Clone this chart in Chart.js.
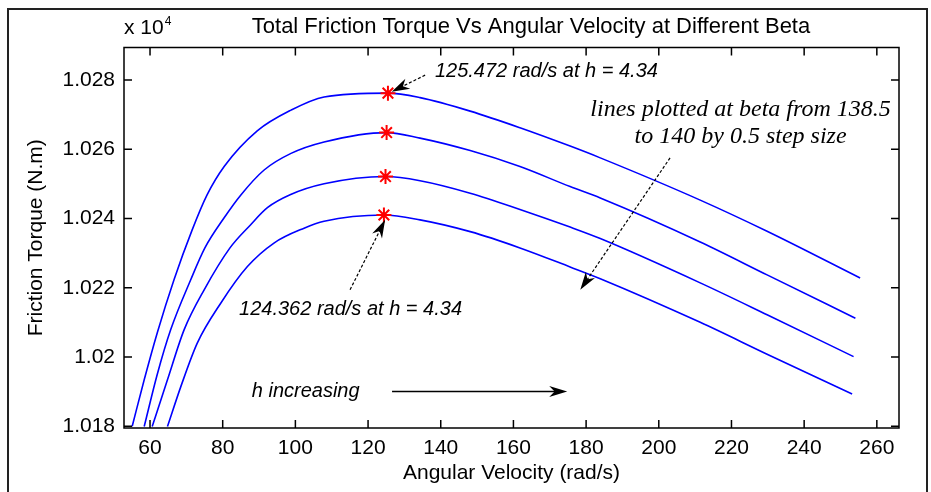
<!DOCTYPE html>
<html>
<head>
<meta charset="utf-8">
<script src="https://cdn.jsdelivr.net/npm/chart.js@4.4.1/dist/chart.umd.min.js"></script>
<style>
  html, body { margin: 0; padding: 0; background: #fff; }
  canvas { display: block; }
</style>
</head>
<body>
<canvas id="chart" width="931" height="492"></canvas>
<script>
const SANS  = "'Liberation Sans', Arial, sans-serif"
const SERIF = "'Liberation Serif', 'Times New Roman', serif"

// angular velocity (rad/s) and total friction torque (N.m), one pair per beta
const speed140   = [55.1, 58.4, 62.0, 66.6, 71.6, 75.7, 80.4, 89.5, 98.8, 107.9, 125.472, 134.3, 148.1, 161.8, 175.6, 183.9, 211.4, 229.8, 255.4]
const torque140  = [10180.0, 10193.4, 10207.0, 10222.3, 10236.7, 10246.8, 10255.0, 10265.3, 10271.3, 10275.1, 10276.2, 10274.9, 10271.0, 10266.2, 10260.9, 10257.5, 10245.3, 10236.3, 10222.8]
const speed1395  = [58.4, 62.0, 65.7, 71.2, 75.1, 80.4, 85.0, 91.4, 98.8, 107.9, 125.1, 134.3, 148.1, 161.8, 175.6, 183.9, 211.4, 229.8, 254.1]
const torque1395 = [10179.9, 10195.0, 10207.9, 10222.3, 10231.5, 10240.2, 10246.8, 10254.0, 10258.8, 10262.1, 10264.8, 10263.2, 10259.6, 10255.0, 10249.2, 10245.9, 10233.2, 10223.7, 10211.2]
const speed139   = [60.6, 64.8, 69.4, 74.9, 82.0, 87.7, 92.3, 98.7, 107.9, 124.8, 134.3, 148.1, 161.8, 175.6, 183.9, 211.4, 229.8, 253.6]
const torque139  = [10179.9, 10193.4, 10207.9, 10219.4, 10231.5, 10238.2, 10243.1, 10246.9, 10250.0, 10252.1, 10250.9, 10247.3, 10242.6, 10237.5, 10234.2, 10221.4, 10212.2, 10200.1]
const speed1385  = [64.8, 68.5, 73.0, 79.5, 86.8, 94.1, 102.4, 107.9, 124.362, 134.3, 148.1, 161.8, 175.6, 183.9, 211.4, 229.8, 253.2]
const torque1385 = [10179.9, 10191.5, 10204.0, 10215.6, 10226.1, 10232.9, 10237.2, 10239.2, 10241.0, 10239.6, 10236.2, 10231.5, 10226.0, 10222.6, 10210.0, 10200.8, 10189.3]

const peakSpeed  = [125.472, 125.1, 124.8, 124.362]
const peakTorque = [10276.2, 10264.8, 10252.1, 10241.0]

const speedTicks  = [60, 80, 100, 120, 140, 160, 180, 200, 220, 240, 260]
const torqueTicks = [10180, 10200, 10220, 10240, 10260, 10280]

const zip = (xs, ys) => xs.map((x, i) => ({ x, y: ys[i] }))

const curve = (label, xs, ys) => ({
  type: "line",
  label,
  data: zip(xs, ys),
  borderColor: "#0000FF",
  borderWidth: 1.6,
  pointRadius: 0,
  cubicInterpolationMode: "monotone",
  order: 1
})

const arrow = (ctx, x1, y1, x2, y2, dashed) => {
  const ang = Math.atan2(y2 - y1, x2 - x1)
  const len = 18, half = 5.5
  ctx.save()
  ctx.strokeStyle = "#000"
  ctx.fillStyle = "#000"
  ctx.lineWidth = dashed ? 1.2 : 1.5
  ctx.setLineDash(dashed ? [3, 2] : [])
  ctx.beginPath()
  ctx.moveTo(x1, y1)
  ctx.lineTo(x2 - Math.cos(ang) * len * 0.6, y2 - Math.sin(ang) * len * 0.6)
  ctx.stroke()
  ctx.setLineDash([])
  ctx.translate(x2, y2)
  ctx.rotate(ang)
  ctx.beginPath()
  ctx.moveTo(0, 0)
  ctx.lineTo(-len, -half)
  ctx.lineTo(-len * 0.7, 0)
  ctx.lineTo(-len, half)
  ctx.closePath()
  ctx.fill()
  ctx.restore()
}

const frame = {
  id: "frame",
  afterDatasetsDraw(chart) {
    const { ctx, chartArea: a, scales: { x, y } } = chart
    const tick = 8
    ctx.save()
    ctx.strokeStyle = "#000"
    ctx.lineWidth = 1.5
    ctx.strokeRect(a.left, a.top, a.right - a.left, a.bottom - a.top)
    ctx.beginPath()
    speedTicks.forEach(v => {
      const p = x.getPixelForValue(v)
      ctx.moveTo(p, a.bottom); ctx.lineTo(p, a.bottom - tick)
      ctx.moveTo(p, a.top);    ctx.lineTo(p, a.top + tick)
    })
    torqueTicks.forEach(v => {
      const p = y.getPixelForValue(v)
      ctx.moveTo(a.left, p);  ctx.lineTo(a.left + tick, p)
      ctx.moveTo(a.right, p); ctx.lineTo(a.right - tick, p)
    })
    ctx.stroke()

    // outer figure border
    ctx.strokeStyle = "#222"
    ctx.lineWidth = 2
    ctx.beginPath()
    ctx.moveTo(8, 492); ctx.lineTo(8, 9); ctx.lineTo(927, 9); ctx.lineTo(927, 492)
    ctx.stroke()

    ctx.fillStyle = "#000"
    ctx.textBaseline = "alphabetic"
    ctx.font = `22px ${SANS}`
    ctx.textAlign = "center"
    ctx.fillText("Total Friction Torque Vs Angular Velocity at Different Beta", 531, 33)
    ctx.font = `21px ${SANS}`
    ctx.textAlign = "left"
    ctx.fillText("x 10", a.left, 34)
    const w = ctx.measureText("x 10").width
    ctx.font = `12px ${SANS}`
    ctx.fillText("4", a.left + w + 1, 25)
    ctx.restore()
  }
}

const notes = {
  id: "notes",
  afterDatasetsDraw(chart) {
    const { ctx, scales: { x, y } } = chart
    const px = v => x.getPixelForValue(v)
    const py = v => y.getPixelForValue(v)
    ctx.save()
    ctx.fillStyle = "#000"
    ctx.textBaseline = "middle"
    ctx.textAlign = "left"
    ctx.font = `italic 20px ${SANS}`
    ctx.fillText("125.472 rad/s at h = 4.34", px(138.4), py(10282.4))
    ctx.fillText("124.362 rad/s at h = 4.34", px(84.5), py(10213.6))
    ctx.fillText("h increasing", px(88.0), py(10190.0))
    ctx.textAlign = "center"
    ctx.font = `italic 24px ${SERIF}`
    ctx.fillText("lines plotted at beta from 138.5", px(222.5), py(10271.3))
    ctx.fillText("to 140 by 0.5 step size", px(222.5), py(10263.5))
    ctx.restore()

    arrow(ctx, px(135.7), py(10281.4), px(126.5), py(10276.6), true)
    arrow(ctx, px(115.05), py(10219.4), px(124.7), py(10239.6), true)
    arrow(ctx, px(203.1), py(10257.5), px(178.4), py(10219.4), true)
    arrow(ctx, px(126.6), py(10190.0), px(174.8), py(10190.0), false)
  }
}

new Chart(document.getElementById("chart"), {
  data: {
    datasets: [
      {
        type: "scatter",
        label: "peak",
        data: zip(peakSpeed, peakTorque),
        pointStyle: "star",
        pointRadius: 7.5,
        borderColor: "#FF0000",
        backgroundColor: "#FF0000",
        borderWidth: 2,
        order: 0
      },
      curve("beta = 140", speed140, torque140),
      curve("beta = 139.5", speed1395, torque1395),
      curve("beta = 139", speed139, torque139),
      curve("beta = 138.5", speed1385, torque1385)
    ]
  },
  options: {
    responsive: false,
    animation: false,
    devicePixelRatio: 1,
    layout: { padding: { left: 0, top: 47.5, right: 32, bottom: 0 } },
    plugins: {
      legend: { display: false },
      tooltip: { enabled: false }
    },
    scales: {
      x: {
        type: "linear",
        min: 52.84,
        max: 266.1,
        afterBuildTicks: s => { s.ticks = speedTicks.map(v => ({ value: v })) },
        afterFit: s => { s.height = 64 },
        grid: { display: false, drawTicks: false },
        border: { display: false },
        ticks: { color: "#000", padding: 8, font: { family: SANS, size: 21 } },
        title: {
          display: true,
          text: "Angular Velocity (rad/s)",
          color: "#000",
          font: { family: SANS, size: 21 },
          padding: { top: 0, bottom: 6 }
        }
      },
      y: {
        type: "linear",
        min: 10179.48,
        max: 10289.38,
        afterBuildTicks: s => { s.ticks = torqueTicks.map(v => ({ value: v })) },
        afterFit: s => { s.width = 124 },
        grid: { display: false, drawTicks: false },
        border: { display: false },
        ticks: {
          color: "#000",
          padding: 9,
          font: { family: SANS, size: 21 },
          callback: v => String(+(v / 1e4).toFixed(3))
        },
        title: {
          display: true,
          text: "Friction Torque (N.m)",
          color: "#000",
          font: { family: SANS, size: 21 },
          padding: { top: 24, bottom: 0 }
        }
      }
    }
  },
  plugins: [frame, notes]
})
</script>
</body>
</html>
